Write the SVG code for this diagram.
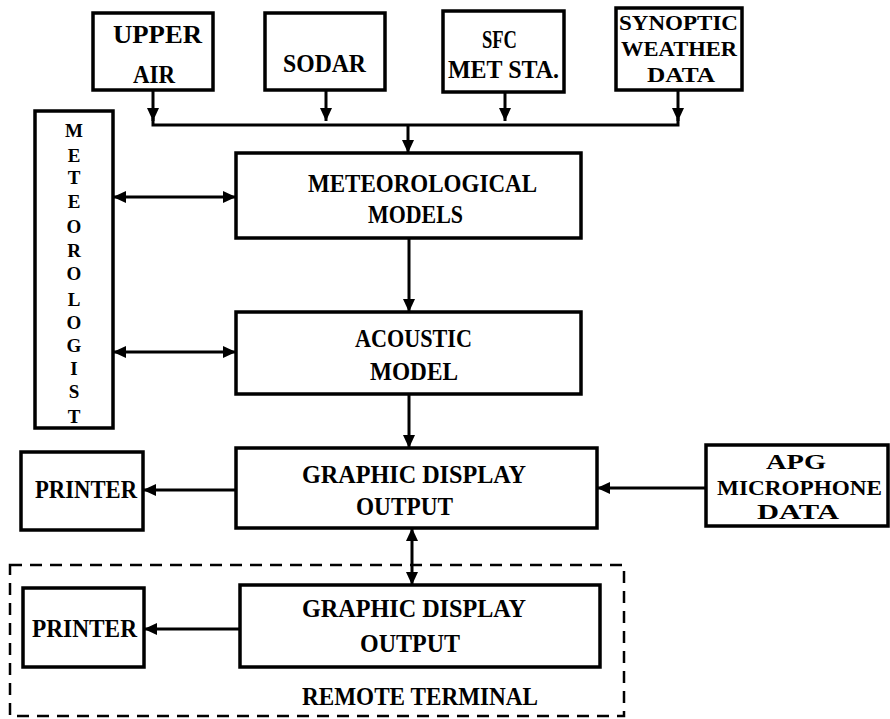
<svg xmlns="http://www.w3.org/2000/svg" width="890" height="719" viewBox="0 0 890 719">
<style>
.box{fill:#fff;stroke:#000;stroke-width:3.5}
.t{font-family:"Liberation Serif","Times New Roman",serif;font-weight:bold;font-size:25px;fill:#000}
.s{font-size:22px}
.v{font-family:"Liberation Serif","Times New Roman",serif;font-weight:bold;font-size:19px;fill:#000;text-anchor:middle}
.c{fill:none;stroke:#000;stroke-width:3}
.dash{fill:none;stroke:#000;stroke-width:2.5;stroke-dasharray:12 8}
</style>
<defs>
<marker id="ah" markerUnits="userSpaceOnUse" markerWidth="14" markerHeight="12" refX="13" refY="6" orient="auto-start-reverse" viewBox="0 0 14 12">
<path d="M0,0 L13,6 L0,12 Z" fill="#000"/>
</marker>
</defs>
<rect id="remote-terminal" class="dash" x="10" y="565" width="614" height="151"/>
<g id="connectors">
<path class="c" d="M153,90 V121" marker-end="url(#ah)"/>
<path class="c" d="M326,90 V121" marker-end="url(#ah)"/>
<path class="c" d="M505,92 V121" marker-end="url(#ah)"/>
<path class="c" d="M678,90 V121" marker-end="url(#ah)"/>
<path class="c" d="M153,118 V125 H678 V118"/>
<path class="c" d="M408,125 V153" marker-end="url(#ah)"/>
<path class="c" d="M113,197 H236" marker-start="url(#ah)" marker-end="url(#ah)"/>
<path class="c" d="M113,352 H236" marker-start="url(#ah)" marker-end="url(#ah)"/>
<path class="c" d="M409,238 V312" marker-end="url(#ah)"/>
<path class="c" d="M409,394 V448" marker-end="url(#ah)"/>
<path class="c" d="M236,490 H143" marker-end="url(#ah)"/>
<path class="c" d="M706,488 H597" marker-end="url(#ah)"/>
<path class="c" d="M412,528 V585" marker-start="url(#ah)" marker-end="url(#ah)"/>
<path class="c" d="M240,629 H144" marker-end="url(#ah)"/>
</g>
<g id="upper-air">
<rect class="box" x="93" y="13" width="120" height="77"/>
<text class="t" x="113" y="43" textLength="89" lengthAdjust="spacingAndGlyphs">UPPER</text>
<text class="t" x="133" y="83" textLength="42" lengthAdjust="spacingAndGlyphs">AIR</text>
</g>
<g id="sodar">
<rect class="box" x="265" y="13" width="120" height="77"/>
<text class="t" x="283" y="72" textLength="83" lengthAdjust="spacingAndGlyphs">SODAR</text>
</g>
<g id="sfc-met-sta">
<rect class="box" x="443" y="11" width="121" height="81"/>
<text class="t" x="482" y="48" textLength="35" lengthAdjust="spacingAndGlyphs">SFC</text>
<text class="t" x="448" y="78" textLength="111" lengthAdjust="spacingAndGlyphs">MET STA.</text>
</g>
<g id="synoptic">
<rect class="box" x="616" y="8" width="126" height="82"/>
<text class="t s" x="619" y="30" textLength="119" lengthAdjust="spacingAndGlyphs">SYNOPTIC</text>
<text class="t s" x="621" y="56" textLength="116" lengthAdjust="spacingAndGlyphs">WEATHER</text>
<text class="t s" x="647" y="82" textLength="68" lengthAdjust="spacingAndGlyphs">DATA</text>
</g>
<g id="meteorologist">
<rect class="box" x="35" y="111" width="78" height="317"/>
<text class="v" x="74" y="137">M</text>
<text class="v" x="74" y="162">E</text>
<text class="v" x="74" y="184">T</text>
<text class="v" x="74" y="208">E</text>
<text class="v" x="74" y="233">O</text>
<text class="v" x="74" y="257">R</text>
<text class="v" x="74" y="280">O</text>
<text class="v" x="74" y="306">L</text>
<text class="v" x="74" y="329">O</text>
<text class="v" x="74" y="352">G</text>
<text class="v" x="74" y="375">I</text>
<text class="v" x="74" y="398">S</text>
<text class="v" x="74" y="423">T</text>
</g>
<g id="meteorological-models">
<rect class="box" x="236" y="153" width="345" height="85"/>
<text class="t" x="308" y="192" textLength="229" lengthAdjust="spacingAndGlyphs">METEOROLOGICAL</text>
<text class="t" x="368" y="223" textLength="95" lengthAdjust="spacingAndGlyphs">MODELS</text>
</g>
<g id="acoustic-model">
<rect class="box" x="236" y="312" width="345" height="82"/>
<text class="t" x="355" y="347" textLength="117" lengthAdjust="spacingAndGlyphs">ACOUSTIC</text>
<text class="t" x="370" y="380" textLength="88" lengthAdjust="spacingAndGlyphs">MODEL</text>
</g>
<g id="printer-1">
<rect class="box" x="21" y="452" width="122" height="78"/>
<text class="t" x="35" y="498" textLength="102" lengthAdjust="spacingAndGlyphs">PRINTER</text>
</g>
<g id="graphic-display-1">
<rect class="box" x="236" y="448" width="361" height="80"/>
<text class="t" x="302" y="483" textLength="224" lengthAdjust="spacingAndGlyphs">GRAPHIC DISPLAY</text>
<text class="t" x="356" y="515" textLength="97" lengthAdjust="spacingAndGlyphs">OUTPUT</text>
</g>
<g id="apg-microphone">
<rect class="box" x="706" y="445" width="182" height="81"/>
<text class="t s" x="766" y="469" textLength="60" lengthAdjust="spacingAndGlyphs">APG</text>
<text class="t s" x="717" y="495" textLength="165" lengthAdjust="spacingAndGlyphs">MICROPHONE</text>
<text class="t s" x="757" y="519" textLength="82" lengthAdjust="spacingAndGlyphs">DATA</text>
</g>
<g id="printer-2">
<rect class="box" x="23" y="588" width="121" height="79"/>
<text class="t" x="32" y="637" textLength="105" lengthAdjust="spacingAndGlyphs">PRINTER</text>
</g>
<g id="graphic-display-2">
<rect class="box" x="240" y="585" width="360" height="82"/>
<text class="t" x="302" y="617" textLength="224" lengthAdjust="spacingAndGlyphs">GRAPHIC DISPLAY</text>
<text class="t" x="360" y="652" textLength="100" lengthAdjust="spacingAndGlyphs">OUTPUT</text>
</g>
<g id="remote-terminal-label">
<text class="t" x="302" y="705" textLength="236" lengthAdjust="spacingAndGlyphs">REMOTE TERMINAL</text>
</g>
</svg>
